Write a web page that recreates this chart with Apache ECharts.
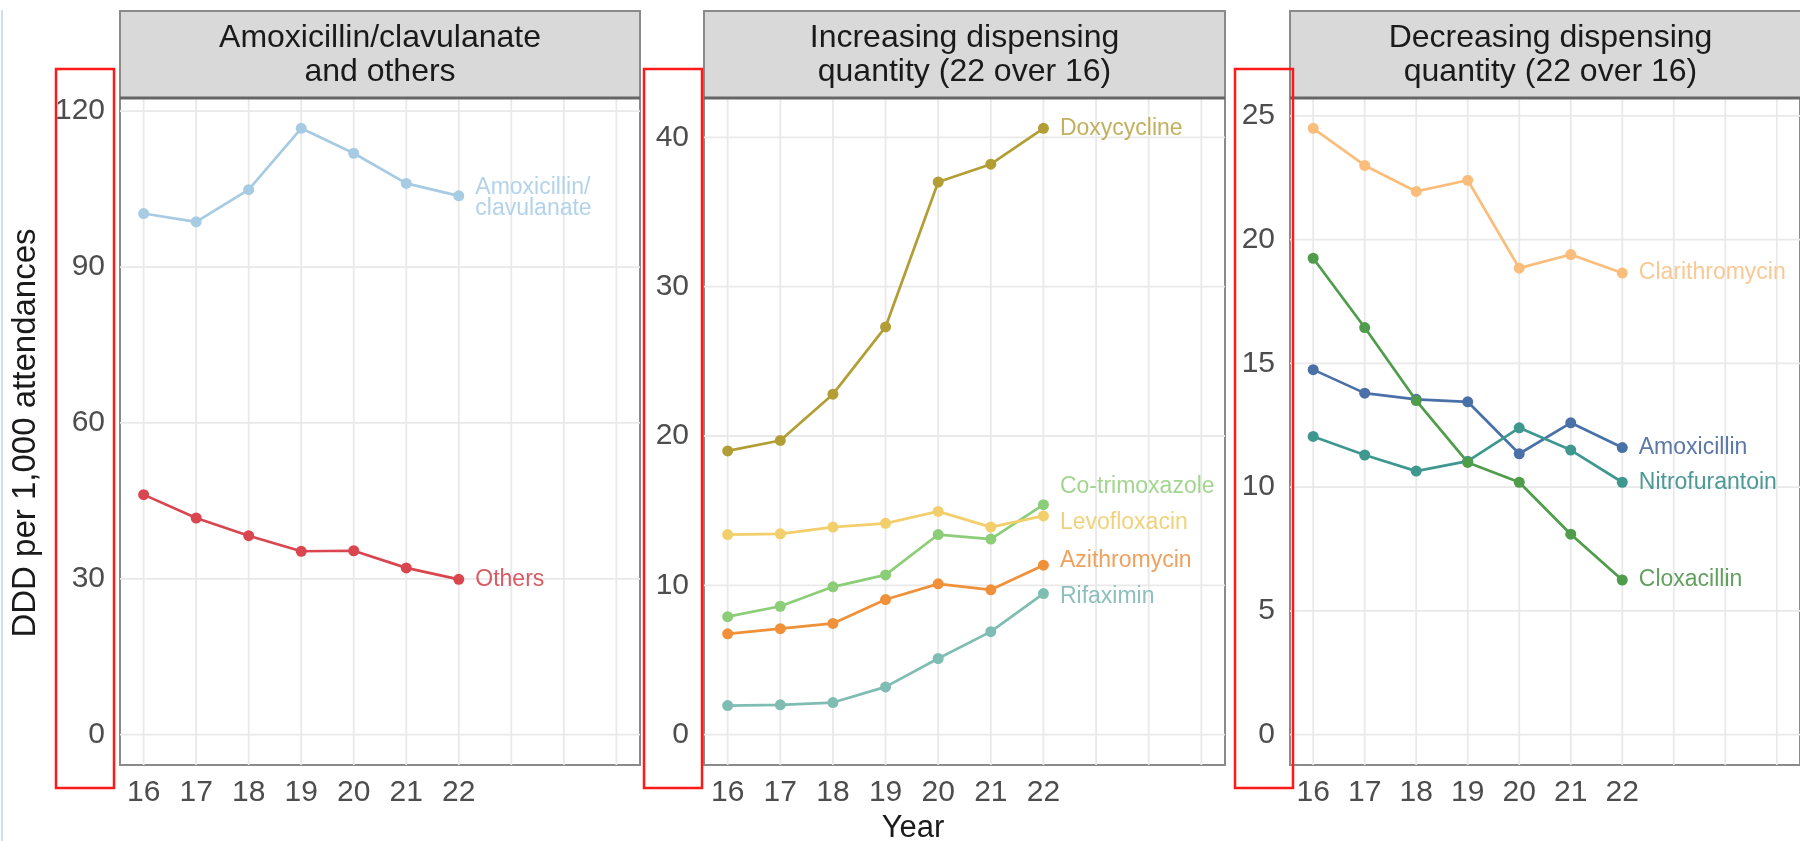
<!DOCTYPE html>
<html>
<head>
<meta charset="utf-8">
<script src="https://cdn.jsdelivr.net/npm/echarts@6/dist/echarts.min.js"></script>
<style>
html,body{margin:0;padding:0;background:#fff;}
#chart{width:1800px;height:841px;}
</style>
</head>
<body>
<div id="chart"></div>
<script>
// ---------------- DATA ----------------
const years = [16, 17, 18, 19, 20, 21, 22];
const xGridYears = [16, 17, 18, 19, 20, 21, 22, 23, 24, 25];

const panelTitles = [
  'Amoxicillin/clavulanate\nand others',
  'Increasing dispensing\nquantity (22 over 16)',
  'Decreasing dispensing\nquantity (22 over 16)'
];

const panel1Ticks = [0, 30, 60, 90, 120];
const panel2Ticks = [0, 10, 20, 30, 40];
const panel3Ticks = [0, 5, 10, 15, 20, 25];

// Panel 1
const amoxClav = [100.3, 98.7, 104.9, 116.7, 111.9, 106.1, 103.7];
const others = [46.2, 41.7, 38.3, 35.3, 35.4, 32.1, 29.9];
// Panel 2
const doxycycline = [19.0, 19.7, 22.8, 27.3, 37.0, 38.2, 40.6];
const coTrimoxazole = [7.9, 8.6, 9.9, 10.7, 13.4, 13.1, 15.4];
const levofloxacin = [13.4, 13.45, 13.9, 14.15, 14.95, 13.9, 14.65];
const azithromycin = [6.75, 7.1, 7.45, 9.05, 10.1, 9.7, 11.35];
const rifaximin = [1.95, 2.0, 2.15, 3.2, 5.1, 6.9, 9.45];
// Panel 3
const clarithromycin = [24.5, 23.0, 21.95, 22.4, 18.85, 19.4, 18.65];
const amoxicillin = [14.75, 13.8, 13.55, 13.45, 11.35, 12.6, 11.6];
const nitrofurantoin = [12.05, 11.3, 10.65, 11.05, 12.4, 11.5, 10.2];
const cloxacillin = [19.25, 16.45, 13.5, 11.0, 10.2, 8.1, 6.25];

// ---------------- STYLE / LAYOUT ----------------
const FONT = "'Liberation Sans', Arial, Helvetica, sans-serif";
const panelsLayout = [
  { left: 120, width: 520 },
  { left: 704, width: 521 },
  { left: 1290, width: 521 }
];
const PLOT_TOP = 98, PLOT_BOTTOM = 765, STRIP_TOP = 11;

const seriesDefs = [
  { panel: 0, name: 'Amoxicillin/\nclavulanate', values: amoxClav, color: '#a6cbe3', labelColor: '#b3d3ea', dy: 2 },
  { panel: 0, name: 'Others', values: others, color: '#d9464f', labelColor: '#d95b63', dy: 0 },
  { panel: 1, name: 'Doxycycline', values: doxycycline, color: '#b39e35', labelColor: '#c2b05e', dy: 0 },
  { panel: 1, name: 'Co-trimoxazole', values: coTrimoxazole, color: '#8ccd77', labelColor: '#a2d58f', dy: -18 },
  { panel: 1, name: 'Levofloxacin', values: levofloxacin, color: '#f2cf6a', labelColor: '#f0d27c', dy: 7 },
  { panel: 1, name: 'Azithromycin', values: azithromycin, color: '#f0913a', labelColor: '#efa15e', dy: -5 },
  { panel: 1, name: 'Rifaximin', values: rifaximin, color: '#7fbdb3', labelColor: '#8dbfbd', dy: 3 },
  { panel: 2, name: 'Clarithromycin', values: clarithromycin, color: '#fbbd7b', labelColor: '#f9c894', dy: 0 },
  { panel: 2, name: 'Amoxicillin', values: amoxicillin, color: '#4a70a8', labelColor: '#5b78a6', dy: 0 },
  { panel: 2, name: 'Nitrofurantoin', values: nitrofurantoin, color: '#3f9890', labelColor: '#4d9995', dy: 0 },
  { panel: 2, name: 'Cloxacillin', values: cloxacillin, color: '#4f9c4b', labelColor: '#62a05f', dy: 0 }
];

const panelTicks = [panel1Ticks, panel2Ticks, panel3Ticks];

// ggplot-style limits: include 0, expand 5%
function yRange(panel) {
  let mx = 0;
  seriesDefs.filter(s => s.panel === panel).forEach(s => s.values.forEach(v => { if (v > mx) mx = v; }));
  const pad = mx * 0.05;
  return [-pad, mx + pad];
}
const xMinLim = 16, xMaxLim = 25;
const xPad = (xMaxLim - xMinLim) * 0.05;
const xRange = [xMinLim - xPad, xMaxLim + xPad];

const grids = [], xAxes = [], yAxes = [], series = [], graphics = [];

panelsLayout.forEach((p, i) => {
  const yr = yRange(i);
  grids.push({
    left: p.left, width: p.width, top: PLOT_TOP, height: PLOT_BOTTOM - PLOT_TOP,
    show: true, backgroundColor: '#ffffff', borderColor: '#8a8a8a', borderWidth: 2
  });
  xAxes.push({
    type: 'value', gridIndex: i, min: xRange[0], max: xRange[1],
    axisLine: { show: false }, axisTick: { show: false }, splitLine: { show: false },
    axisLabel: { customValues: years, fontSize: 30, color: '#4d4d4d', fontFamily: FONT, margin: 13 }
  });
  yAxes.push({
    type: 'value', gridIndex: i, min: yr[0], max: yr[1],
    axisLine: { show: false }, axisTick: { show: false }, splitLine: { show: false },
    axisLabel: { customValues: panelTicks[i], fontSize: 30, color: '#4d4d4d', fontFamily: FONT, margin: 15 }
  });
  // grid lines via the axes' scales
  const gridData = xGridYears.map(v => [0, v]).concat(panelTicks[i].map(v => [1, v]));
  series.push({
    type: 'custom', xAxisIndex: i, yAxisIndex: i, silent: true, z: 1,
    data: gridData,
    renderItem: function (params, api) {
      const kind = api.value(0), v = api.value(1);
      let a, b;
      if (kind === 0) { a = api.coord([v, yr[0]]); b = api.coord([v, yr[1]]); }
      else { a = api.coord([xRange[0], v]); b = api.coord([xRange[1], v]); }
      return { type: 'line', shape: { x1: a[0], y1: a[1], x2: b[0], y2: b[1] },
               style: { stroke: '#e9e9e9', lineWidth: 1.8 } };
    }
  });
  // strip
  graphics.push({
    type: 'rect', shape: { x: p.left, y: STRIP_TOP, width: p.width, height: PLOT_TOP - STRIP_TOP },
    style: { fill: '#d9d9d9', stroke: '#8a8a8a', lineWidth: 2 }, z: 10
  });
  graphics.push({
    type: 'line', shape: { x1: p.left, y1: PLOT_TOP, x2: p.left + p.width, y2: PLOT_TOP },
    style: { stroke: '#666666', lineWidth: 3 }, z: 11
  });
  graphics.push({
    type: 'text', x: p.left + p.width / 2, y: (STRIP_TOP + PLOT_TOP) / 2 + 1, z: 12,
    style: { text: panelTitles[i], fill: '#1a1a1a', font: '32px ' + FONT, align: 'center',
             verticalAlign: 'middle', lineHeight: 34 }
  });
});

seriesDefs.forEach(s => {
  const last = s.values.length - 1;
  series.push({
    type: 'line', name: s.name, xAxisIndex: s.panel, yAxisIndex: s.panel, z: 3,
    symbol: 'circle', symbolSize: 11, silent: true,
    lineStyle: { color: s.color, width: 2.7 },
    itemStyle: { color: s.color },
    data: s.values.map((v, k) => {
      if (k !== last) return [years[k], v];
      return {
        value: [years[k], v],
        label: {
          show: true, position: 'right', distance: 11, offset: [0, s.dy],
          formatter: s.name, color: s.labelColor, fontSize: 23, fontFamily: FONT,
          lineHeight: 21, align: 'left'
        }
      };
    })
  });
});

// axis titles
graphics.push({
  type: 'text', x: 26, y: 433, rotation: Math.PI / 2, z: 12,
  style: { text: 'DDD per 1,000 attendances', fill: '#1a1a1a', font: '33px ' + FONT,
           align: 'center', verticalAlign: 'middle' }
});
graphics.push({
  type: 'text', x: 913, y: 828, z: 12,
  style: { text: 'Year', fill: '#1a1a1a', font: '31px ' + FONT, align: 'center', verticalAlign: 'middle' }
});
// annotation boxes around the y tick labels
[[56, 114], [644, 702], [1235, 1293]].forEach(b => {
  graphics.push({
    type: 'rect', shape: { x: b[0], y: 69, width: b[1] - b[0], height: 719 },
    style: { fill: 'none', stroke: '#ff1a1a', lineWidth: 2.5 }, z: 20
  });
});
// faint left edge line
graphics.push({
  type: 'line', shape: { x1: 2, y1: 10, x2: 2, y2: 841 },
  style: { stroke: '#cfdff0', lineWidth: 2 }, z: 5
});

const chart = echarts.init(document.getElementById('chart'), null, { renderer: 'canvas' });
chart.setOption({
  animation: false,
  backgroundColor: '#ffffff',
  grid: grids, xAxis: xAxes, yAxis: yAxes, series: series, graphic: graphics
});
</script>
</body>
</html>
